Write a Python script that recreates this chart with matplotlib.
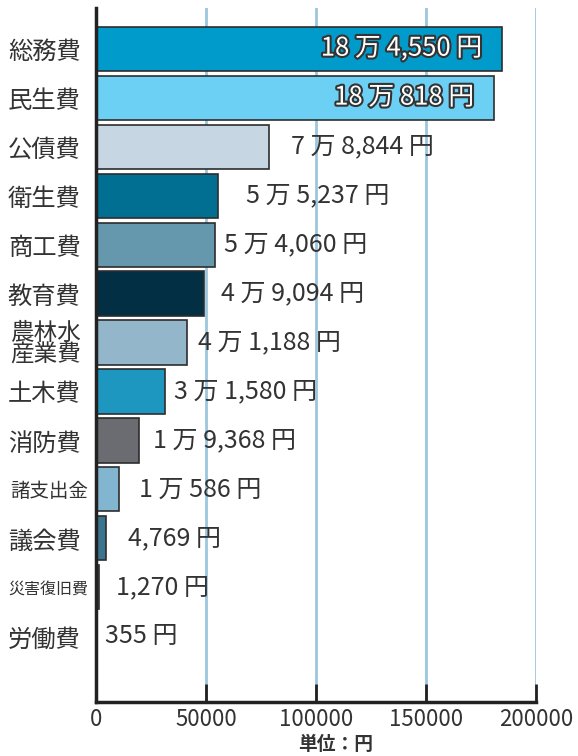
import matplotlib.pyplot as plt
import matplotlib.patheffects as pe
from matplotlib.transforms import ScaledTranslation

plt.rcParams['font.family'] = ['Noto Sans CJK JP', 'DejaVu Sans']

# data
categories = ["総務費", "民生費", "公債費", "衛生費", "商工費", "教育費",
              "農林水\n産業費", "土木費", "消防費", "諸支出金", "議会費",
              "災害復旧費", "労働費"]
values = [184550, 180818, 78844, 55237, 54060, 49094, 41188, 31580,
          19368, 10586, 4769, 1270, 355]
value_labels = ["18 万 4,550 円", "18 万 818 円", "7 万 8,844 円", "5 万 5,237 円",
                "5 万 4,060 円", "4 万 9,094 円", "4 万 1,188 円", "3 万 1,580 円",
                "1 万 9,368 円", "1 万 586 円", "4,769 円", "1,270 円", "355 円"]
colors = ["#009bcb", "#6ccff4", "#c6d6e2", "#006f91", "#6597ad", "#032f45",
          "#93b6ca", "#1e97c0", "#6a6c71", "#82b5d0", "#3a7590", "#666666", "#333333"]

# label gap after bar end (px); None = inside bar
label_gap = [None, None, 22, 28, 9, 17, 11, 9, 14, 20, 22, 17, 8]
label_size = [17.5, 17.5, 17.5, 17.5, 17.5, 17.5, 17, 17.5, 17.5, 14, 17.5, 11.5, 17.5]

fig = plt.figure(figsize=(5.78, 7.56), dpi=100)
ax = fig.add_axes([96 / 578, 1 - 702 / 756, 440 / 578, 694 / 756])

pos = list(range(len(categories)))
ax.barh(pos, values, height=0.9, color=colors, edgecolor="#2d2d2d",
        linewidth=1.2, zorder=3)

ax.set_xlim(0, 200000)
ax.set_ylim(len(categories) - 1 + 1.34, -0.83)

ax.set_xticks([0, 50000, 100000, 150000, 200000])
ax.set_xticklabels(["0", "50000", "100000", "150000", "200000"], fontsize=16,
                   color="#333333")
ax.tick_params(axis="x", direction="in", length=13, width=2, color="#222222",
               pad=4)
ax.grid(axis="x", color="#9cc6dd", linewidth=2, zorder=0)
ax.set_axisbelow(True)

ax.set_yticks(pos)
ax.set_yticklabels(categories, color="#333333")
ax.tick_params(axis="y", length=0, pad=11)
for lbl, fs, name in zip(ax.get_yticklabels(), label_size, categories):
    lbl.set_fontsize(fs)
    lbl.set_linespacing(0.9)
    if len(name) > 3 and "\n" not in name:
        lbl.set_transform(lbl.get_transform() +
                          ScaledTranslation(8 / 100, 0, fig.dpi_scale_trans))

for s in ["top", "right"]:
    ax.spines[s].set_visible(False)
ax.spines["left"].set_linewidth(2.5)
ax.spines["bottom"].set_linewidth(2.5)
ax.spines["left"].set_color("#222222")
ax.spines["bottom"].set_color("#222222")
ax.spines["left"].set_zorder(4)

for i, (v, txt, gap) in enumerate(zip(values, value_labels, label_gap)):
    if gap is None:
        ax.text(v, i, txt, ha="right", va="center", fontsize=18.5,
                color="white", zorder=5,
                path_effects=[pe.withStroke(linewidth=3, foreground="#333333")],
                transform=ax.transData + ScaledTranslation(-20 / 100, 0, fig.dpi_scale_trans))
    else:
        ax.text(v, i, txt, ha="left", va="center", fontsize=18, color="#333333",
                zorder=5,
                transform=ax.transData + ScaledTranslation(gap / 100, 0, fig.dpi_scale_trans))

fig.text(336 / 578, 1 - 745 / 756, "単位：円", ha="center", va="center",
         fontsize=13.5, fontweight="bold", color="#333333")

fig.savefig("out.png", dpi=100)
